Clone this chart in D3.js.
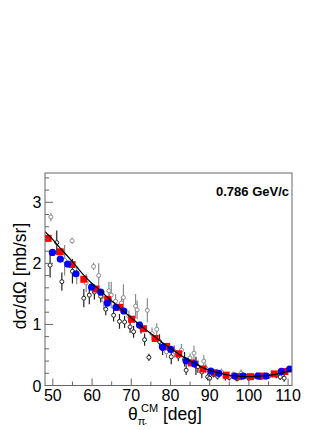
<!DOCTYPE html>
<html><head><meta charset="utf-8">
<script src="https://cdn.jsdelivr.net/npm/d3@7"></script>
<style>html,body{margin:0;padding:0;background:#fff;}svg{display:block;font-family:"Liberation Sans",Arial,sans-serif;}</style>
</head><body>
<script>
// ---- data ----
const xTicks = [50, 60, 70, 80, 90, 100, 110];
const yTicks = [0, 1, 2, 3];
const annotation = "0.786 GeV/c";

// experimental points (open circles), black set
const expBlackTheta = [49.3, 51.0, 52.3, 55.0, 57.9, 59.3, 60.6, 62.2, 63.5, 65.5, 67.0, 68.3, 69.7, 70.6, 72.5, 73.4, 74.5, 77.2, 78.0, 80.2, 82.0, 83.6, 84.0, 86.5, 87.0, 88.0, 89.5, 90.0, 91.0, 92.0, 94.0, 95.0, 97.0, 99.0, 100.0, 101.0, 103.0, 105.0, 107.0, 108.0, 109.0];
const expBlackValue = [1.97, 2.34, 1.70, 1.87, 1.43, 1.48, 1.53, 1.46, 1.25, 1.15, 1.05, 1.04, 0.96, 0.88, 0.95, 0.75, 0.46, 0.72, 0.60, 0.47, 0.48, 0.43, 0.25, 0.32, 0.31, 0.22, 0.14, 0.12, 0.18, 0.15, 0.14, 0.13, 0.11, 0.16, 0.12, 0.14, 0.13, 0.15, 0.17, 0.14, 0.12];
const expBlackError = [0.20, 0.20, 0.15, 0.20, 0.15, 0.15, 0.12, 0.10, 0.10, 0.10, 0.12, 0.10, 0.10, 0.10, 0.10, 0.10, 0.06, 0.12, 0.10, 0.12, 0.08, 0.12, 0.08, 0.15, 0.10, 0.10, 0.06, 0.05, 0.05, 0.05, 0.06, 0.05, 0.04, 0.04, 0.04, 0.04, 0.04, 0.04, 0.05, 0.05, 0.06];
// experimental points (open circles), grey set
const expGreyTheta = [49.5, 53.0, 54.9, 56.1, 58.5, 60.4, 61.7, 63.0, 64.3, 64.9, 66.0, 67.5, 68.0, 69.4, 71.1, 71.5, 74.1, 75.3, 76.5, 79.0, 81.0, 82.8, 85.0, 86.0, 88.5, 89.0, 93.0, 96.0, 98.0, 102.0, 104.0, 106.0];
const expGreyValue = [2.76, 2.05, 2.37, 1.81, 1.68, 1.95, 1.80, 1.40, 1.55, 1.48, 1.38, 1.35, 1.44, 1.13, 1.30, 1.24, 1.23, 0.85, 0.92, 0.55, 0.56, 0.58, 0.45, 0.53, 0.40, 0.28, 0.22, 0.18, 0.20, 0.17, 0.16, 0.18];
const expGreyError = [0.07, 0.25, 0.05, 0.15, 0.15, 0.06, 0.20, 0.15, 0.15, 0.22, 0.12, 0.10, 0.22, 0.10, 0.20, 0.15, 0.20, 0.10, 0.10, 0.10, 0.10, 0.10, 0.08, 0.12, 0.10, 0.08, 0.06, 0.05, 0.06, 0.05, 0.05, 0.05];

// model A (red squares)
const redTheta = [48.8, 51.9, 54.9, 57.9, 61.0, 64.0, 67.0, 70.1, 73.1, 76.1, 79.0, 82.1, 85.3, 88.3, 91.2, 94.2, 97.4, 100.4, 103.3, 106.5, 109.2];
const redValue = [2.41, 2.19, 1.98, 1.74, 1.58, 1.41, 1.28, 1.085, 0.93, 0.77, 0.64, 0.52, 0.37, 0.27, 0.21, 0.17, 0.145, 0.145, 0.155, 0.19, 0.23];
// model B (blue circles)
const blueTheta = [49.9, 51.9, 53.8, 55.9, 59.9, 62.2, 63.9, 66.1, 68.1, 72.1, 78.0, 80.1, 84.0, 86.1, 90.3, 92.3, 96.4, 98.5, 102.3, 104.4, 108.3, 110.4];
const blueValue = [2.18, 2.07, 1.99, 1.83, 1.61, 1.53, 1.35, 1.28, 1.22, 0.99, 0.63, 0.59, 0.40, 0.355, 0.235, 0.20, 0.155, 0.155, 0.155, 0.155, 0.23, 0.27];
// curve (black line)
const curveTheta = [48, 50, 52, 54, 56, 58, 60, 62, 64, 66, 68, 70, 72, 74, 76, 78, 80, 82, 84, 86, 88, 90, 92, 94, 96, 98, 100, 102, 104, 106, 108, 110, 111];
const curveValue = [2.52, 2.39, 2.24, 2.10, 1.95, 1.80, 1.67, 1.56, 1.44, 1.33, 1.22, 1.11, 1.00, 0.90, 0.80, 0.70, 0.61, 0.52, 0.44, 0.37, 0.30, 0.25, 0.21, 0.18, 0.16, 0.15, 0.145, 0.15, 0.16, 0.175, 0.20, 0.23, 0.25];

// ---- drawing ----
const W = 332, H = 430;
const L = 45, R = 292, T = 173, B = 385.5;
const svg = d3.select("body").append("svg").attr("width", W).attr("height", H);
const x = d3.scaleLinear().domain([48, 111]).range([L, R]);
const y = d3.scaleLinear().domain([0, 3.48]).range([B, T]);

const clip = svg.append("clipPath").attr("id", "c").append("rect")
  .attr("x", L).attr("y", T).attr("width", R - L).attr("height", B - T);
const g = svg.append("g").attr("clip-path", "url(#c)");

function expSet(th, v, e, color) {
  const d = th.map((t, i) => ({t, v: v[i], e: e[i]}));
  g.append("g").selectAll("line").data(d).join("line")
    .attr("x1", p => x(p.t)).attr("x2", p => x(p.t))
    .attr("y1", p => y(p.v + p.e)).attr("y2", p => y(p.v - p.e))
    .attr("stroke", color).attr("stroke-width", 1.2);
  g.append("g").selectAll("circle").data(d).join("circle")
    .attr("cx", p => x(p.t)).attr("cy", p => y(p.v)).attr("r", 2)
    .attr("fill", "#fff").attr("stroke", color).attr("stroke-width", 1);
}
expSet(expGreyTheta, expGreyValue, expGreyError, "#8a8a8a");
expSet(expBlackTheta, expBlackValue, expBlackError, "#222");

const redD = redTheta.map((t, i) => ({t, v: redValue[i]}));
g.append("g").selectAll("rect").data(redD).join("rect")
  .attr("x", p => x(p.t) - 3.5).attr("y", p => y(p.v) - 3.5)
  .attr("width", 7).attr("height", 7).attr("fill", "#ff0000");
const blueD = blueTheta.map((t, i) => ({t, v: blueValue[i]}));
g.append("g").selectAll("circle").data(blueD).join("circle")
  .attr("cx", p => x(p.t)).attr("cy", p => y(p.v)).attr("r", 3.6).attr("fill", "#0000ff");

const curveD = curveTheta.map((t, i) => ({t, v: curveValue[i]}));
g.append("path").datum(curveD)
  .attr("d", d3.line().x(p => x(p.t)).y(p => y(p.v)).curve(d3.curveMonotoneX))
  .attr("fill", "none").attr("stroke", "#000").attr("stroke-width", 1.2);

// frame
svg.append("rect").attr("x", L).attr("y", T).attr("width", R - L).attr("height", B - T)
  .attr("fill", "none").attr("stroke", "#666").attr("stroke-width", 1);

// ticks
const axCol = "#666";
const xMinor = d3.range(50, 111, 5).filter(v => v % 10 !== 0);
svg.append("g").selectAll("line").data(xTicks).join("line")
  .attr("x1", v => x(v)).attr("x2", v => x(v)).attr("y1", B).attr("y2", B - 7).attr("stroke", axCol);
svg.append("g").selectAll("line").data(xMinor).join("line")
  .attr("x1", v => x(v)).attr("x2", v => x(v)).attr("y1", B).attr("y2", B - 4).attr("stroke", axCol);
const yMinor = d3.range(0, 3.5, 0.2).filter(v => Math.abs(v - Math.round(v)) > 0.01);
svg.append("g").selectAll("line").data(yTicks).join("line")
  .attr("x1", L).attr("x2", L + 8).attr("y1", v => y(v)).attr("y2", v => y(v)).attr("stroke", axCol);
svg.append("g").selectAll("line").data(yMinor).join("line")
  .attr("x1", L).attr("x2", L + 4).attr("y1", v => y(v)).attr("y2", v => y(v)).attr("stroke", axCol);

// tick labels
svg.append("g").selectAll("text").data(xTicks).join("text")
  .attr("x", v => x(v)).attr("y", 401).attr("text-anchor", "middle")
  .attr("font-size", 16).text(v => v);
svg.append("g").selectAll("text").data(yTicks).join("text")
  .attr("x", 41.5).attr("y", v => y(v) + 6).attr("text-anchor", "end")
  .attr("font-size", 16).text(v => v);

// axis titles
const xt = svg.append("text").attr("x", 128).attr("y", 420).attr("font-size", 17.5);
xt.append("tspan").text("θ");
xt.append("tspan").attr("font-size", 11).attr("dy", 5).text("π");
xt.append("tspan").attr("font-size", 8).attr("dy", 0).attr("dx", -1).text("-");
xt.append("tspan").attr("font-size", 11).attr("dx", -6).attr("dy", -13).text("CM");
xt.append("tspan").attr("dy", 8).text(" [deg]");

svg.append("text").attr("transform", "translate(26,276) rotate(-90)")
  .attr("text-anchor", "middle").attr("font-size", 17.5).text("dσ/dΩ [mb/sr]");

svg.append("text").attr("x", 289).attr("y", 196).attr("text-anchor", "end")
  .attr("font-size", 13).attr("font-weight", "bold").text(annotation);
</script>
</body></html>
